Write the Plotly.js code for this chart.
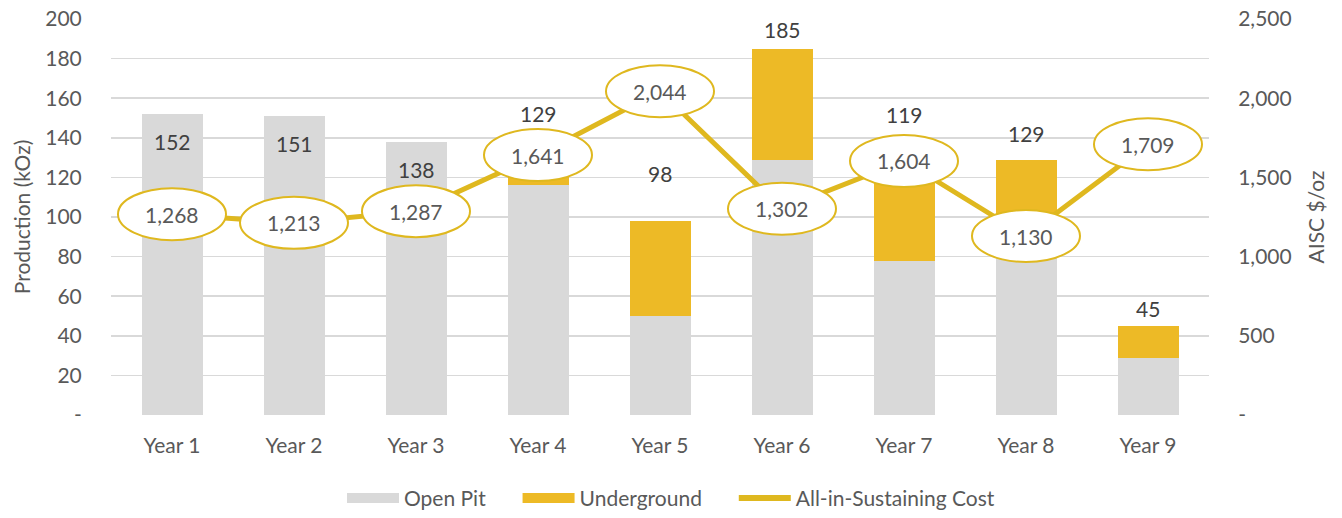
<!DOCTYPE html>
<html>
<head>
<meta charset="utf-8">
<script src="https://cdn.plot.ly/plotly-3.0.1.min.js"></script>
<style>html,body{margin:0;padding:0;background:#fff;}#chart{width:1342px;height:518px;}</style>
</head>
<body>
<div id="chart"></div>
<script>
const years = ["Year 1","Year 2","Year 3","Year 4","Year 5","Year 6","Year 7","Year 8","Year 9"];
const openPit = [152,151,138,116,50,129,78,80,29];
const underground = [0,0,0,13,48,56,41,49,16];
const totals = [152,151,138,129,98,185,119,129,45];
const aisc = [1268,1213,1287,1641,2044,1302,1604,1130,1709];
const totalLabelShift = [-27,-27,-28,46,47,19,65,26,17];
const leftTicks = [0,20,40,60,80,100,120,140,160,180,200];
const leftTickText = ["-","20","40","60","80","100","120","140","160","180","200"];
const rightTicks = [0,500,1000,1500,2000,2500];
const rightTickText = ["-","500","1,000","1,500","2,000","2,500"];
const seriesNames = ["Open Pit","Underground","All-in-Sustaining Cost"];

const FONT = "Lato, 'Open Sans', sans-serif";
const GREY = "#D9D9D9", GOLD = "#EDBA26", LINE = "#DFB81F", TXT = "#595959";
const FS = 21;
const PAD = "\u00a0\u00a0\u00a0\u00a0\u00a0";

const traces = [
  {type:"bar", name:seriesNames[0], x:years, y:openPit, marker:{color:GREY}, hoverinfo:"skip", showlegend:false},
  {type:"bar", name:seriesNames[1], x:years, y:underground, marker:{color:GOLD}, hoverinfo:"skip", showlegend:false},
  {type:"scatter", mode:"lines", name:seriesNames[2], x:years, y:aisc, yaxis:"y2",
   line:{color:LINE, width:5}, hoverinfo:"skip", showlegend:false},
  // legend entries (wide rectangular swatches like the original)
  {type:"scatter", mode:"lines", name:seriesNames[0]+PAD, x:[null], y:[null], line:{color:GREY, width:14}, hoverinfo:"skip"},
  {type:"scatter", mode:"lines", name:seriesNames[1]+PAD, x:[null], y:[null], line:{color:GOLD, width:14}, hoverinfo:"skip"},
  {type:"scatter", mode:"lines", name:seriesNames[2], x:[null], y:[null], yaxis:"y2", line:{color:LINE, width:6}, hoverinfo:"skip"}
];

const shapes = years.map((yr,i)=>({
  type:"circle", layer:"above", xref:"x", yref:"y2",
  xsizemode:"pixel", ysizemode:"pixel", xanchor:yr, yanchor:aisc[i],
  x0:-54, x1:54, y0:-26, y1:26,
  fillcolor:"#ffffff", line:{color:LINE, width:2}
}));

const annotations = [];
years.forEach((yr,i)=>{
  annotations.push({x:yr, y:aisc[i], yref:"y2", xref:"x", text:aisc[i].toLocaleString("en-US"),
    showarrow:false, font:{family:FONT, size:FS, color:"#595959"}});
  annotations.push({x:yr, y:totals[i], yref:"y", xref:"x", text:String(totals[i]),
    showarrow:false, yshift:totalLabelShift[i], font:{family:FONT, size:FS, color:"#404040"}});
});

const layout = {
  width:1342, height:518,
  margin:{l:111, r:133, t:19, b:103},
  paper_bgcolor:"#fff", plot_bgcolor:"#fff",
  barmode:"stack", bargap:0.5,
  font:{family:FONT, size:FS, color:TXT},
  showlegend:true,
  legend:{orientation:"h", x:0.5, xanchor:"center", xref:"container", yref:"container", y:0.038, yanchor:"middle",
    font:{family:FONT, size:FS, color:TXT}, traceorder:"normal", itemwidth:52},
  xaxis:{type:"category", showgrid:false, zeroline:false, showline:false, automargin:false,
    ticks:"outside", ticklen:12, tickcolor:"rgba(0,0,0,0)", tickfont:{family:FONT,size:FS,color:TXT}},
  yaxis:{range:[0,200], tickvals:leftTicks, ticktext:leftTickText, showgrid:true, automargin:false,
    gridcolor:GREY, gridwidth:1.5, zeroline:false, showline:false,
    ticks:"outside", ticklen:24, tickcolor:"rgba(0,0,0,0)",
    tickfont:{family:FONT,size:FS,color:TXT},
    title:{text:"Production (kOz)", font:{family:FONT,size:FS,color:TXT}, standoff:8}},
  yaxis2:{range:[0,2500], overlaying:"y", side:"right", tickvals:rightTicks, ticktext:rightTickText,
    showgrid:false, zeroline:false, showline:false, automargin:false,
    ticks:"outside", ticklen:24, tickcolor:"rgba(0,0,0,0)",
    tickfont:{family:FONT,size:FS,color:TXT},
    title:{text:"AISC $/oz", font:{family:FONT,size:FS,color:TXT}, standoff:18}},
  shapes:shapes,
  annotations:annotations
};

Plotly.newPlot("chart", traces, layout, {staticPlot:true, displayModeBar:false});
</script>
</body>
</html>
